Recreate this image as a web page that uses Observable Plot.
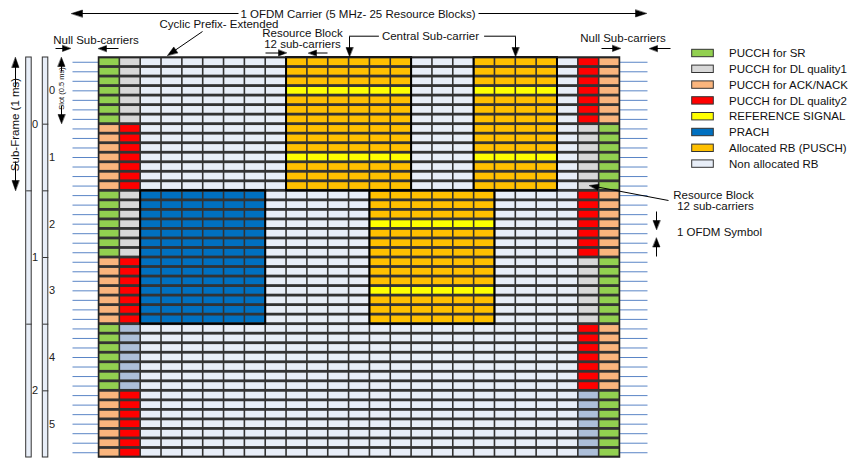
<!DOCTYPE html>
<html><head><meta charset="utf-8">
<script src="https://cdn.jsdelivr.net/npm/d3@7"></script>
<script src="https://cdn.jsdelivr.net/npm/@observablehq/plot@0.6"></script>
<style>body{margin:0;background:#fff} svg{display:block}</style>
</head><body><div id="chart"></div>
<script>
// ---------- data ----------
const nRB = 25;
const symbolsPerSlot = 7;
const slotLabels = ["0","1","2","3","4","5"];
const subFrameLabels = ["0","1","2"];
// PUCCH edge columns, one entry per slot
const col0Types  = ["SR","ACK","SR","ACK","SR","ACK"];
const col1Types  = ["DL1","DL2","DL1","DL2","IDLE","DL2"];
const col23Types = ["DL2","DL1","DL2","DL1","DL2","IDLE"];
const col24Types = ["ACK","SR","ACK","SR","ACK","SR"];
// allocations
const puschFirstRB   = [9, 18, 13];
const puschLastRB    = [14, 21, 18];
const puschFirstSlot = [0, 0, 2];
const puschLastSlot  = [1, 1, 3];
const prachFirstRB = [2], prachLastRB = [7], prachFirstSlot = [2], prachLastSlot = [3];
const refSymbol = 3;
// legend
const legendLabels = ["PUCCH for SR","PUCCH for DL quality1","PUCCH for ACK/NACK","PUCCH for DL quality2","REFERENCE SIGNAL","PRACH","Allocated RB (PUSCH)","Non allocated RB"];
const legendKeys   = ["SR","DL1","ACK","DL2","RS","PRACH","PUSCH","FREE"];
const typeColor = {SR:"#92D050", DL1:"#D8D8D8", ACK:"#FAB57D", DL2:"#FF0000", RS:"#FFFF00", PRACH:"#0070C0", PUSCH:"#FFC000", FREE:"#E8EEF8", IDLE:"#ADBFD9"};

// ---------- build cells ----------
const nSlots = slotLabels.length;
const nRows = nSlots * symbolsPerSlot;
const cells = [];
for (let s = 0; s < nSlots; s++) {
  for (let k = 0; k < symbolsPerSlot; k++) {
    const row = s * symbolsPerSlot + k;
    for (let c = 0; c < nRB; c++) {
      let t = "FREE";
      if (c === 0) t = col0Types[s];
      else if (c === 1) t = col1Types[s];
      else if (c === nRB - 2) t = col23Types[s];
      else if (c === nRB - 1) t = col24Types[s];
      else {
        puschFirstRB.forEach((f, i) => {
          if (c >= f && c <= puschLastRB[i] && s >= puschFirstSlot[i] && s <= puschLastSlot[i]) t = (k === refSymbol ? "RS" : "PUSCH");
        });
        prachFirstRB.forEach((f, i) => {
          if (c >= f && c <= prachLastRB[i] && s >= prachFirstSlot[i] && s <= prachLastSlot[i]) t = "PRACH";
        });
      }
      cells.push({c, row, color: typeColor[t]});
    }
  }
}
const blocks = [];
puschFirstRB.forEach((f, i) => blocks.push({x1: f, x2: puschLastRB[i] + 1, y1: puschFirstSlot[i] * symbolsPerSlot, y2: (puschLastSlot[i] + 1) * symbolsPerSlot}));
prachFirstRB.forEach((f, i) => blocks.push({x1: f, x2: prachLastRB[i] + 1, y1: prachFirstSlot[i] * symbolsPerSlot, y2: (prachLastSlot[i] + 1) * symbolsPerSlot}));

// ---------- layout helpers (annotation placement) ----------
const gx0 = 98.5, gx1 = 619.5, gy0 = 57, gy1 = 457;
const X = px => (px - gx0) / ((gx1 - gx0) / nRB);
const Y = py => (py - gy0) / ((gy1 - gy0) / nRows);

const segs = [], heads = [];
let aid = 0;
function arrow(x1, y1, x2, y2, len = 9, half = 3.5) {
  const dx = x2 - x1, dy = y2 - y1, L = Math.hypot(dx, dy), ux = dx / L, uy = dy / L;
  const bx = x2 - ux * len, by = y2 - uy * len, px = -uy, py = ux;
  segs.push({x1: X(x1), y1: Y(y1), x2: X(bx + ux), y2: Y(by + uy)});
  const id = aid++;
  [[x2, y2], [bx + px * half, by + py * half], [bx - px * half, by - py * half]].forEach(([a, b]) => heads.push({x: X(a), y: Y(b), id}));
}
// carrier arrows
arrow(238, 13, 71, 13, 11, 3.5);
arrow(478, 13, 646, 13, 11, 3.5);
// cyclic prefix
arrow(202, 31, 167, 55, 10, 3.5);
// null sub-carriers
arrow(55, 48, 70, 48, 8, 3);
arrow(118, 48, 98, 48, 8, 3);
arrow(601, 48, 620, 48, 8, 3);
arrow(670, 48, 649, 48, 8, 3);
// resource block (top)
arrow(265, 52.5, 286, 52.5, 8, 3);
arrow(327, 52.5, 308, 52.5, 8, 3);
// central sub-carrier
arrow(349, 36, 349, 56, 9, 3.5);
arrow(515, 36, 515, 56, 9, 3.5);
// resource block (right)
arrow(668, 200, 589, 185, 9, 3);
// 1 OFDM symbol
arrow(656, 211, 656, 229, 9, 3.5);
arrow(656, 256, 656, 237.5, 9, 3.5);
// sub-frame
arrow(15, 87, 15, 57, 10, 3.5);
arrow(15, 161, 15, 190, 10, 3.5);
// slot
arrow(61, 71, 61, 57, 9, 3.5);
arrow(61, 105, 61, 123, 9, 3.5);

const bracket = [
  {x: X(378), y: Y(35.7), z: 0}, {x: X(349), y: Y(35.7), z: 0},
  {x: X(484), y: Y(35.7), z: 1}, {x: X(515), y: Y(35.7), z: 1}
];

const textsMid = [
  {x: X(357.5), y: Y(13.5), t: "1 OFDM Carrier (5 MHz- 25 Resource Blocks)"},
  {x: X(218.5), y: Y(24), t: "Cyclic Prefix- Extended"},
  {x: X(95.5), y: Y(40), t: "Null Sub-carriers"},
  {x: X(622.5), y: Y(37.5), t: "Null Sub-carriers"},
  {x: X(302), y: Y(33.3), t: "Resource Block"},
  {x: X(302), y: Y(44), t: "12 sub-carriers"},
  {x: X(430), y: Y(35.7), t: "Central Sub-carrier"},
  {x: X(713), y: Y(195), t: "Resource Block"},
  {x: X(715), y: Y(206), t: "12 sub-carriers"}
];
const textsStart = [
  {x: X(676.5), y: Y(232.3), t: "1 OFDM Symbol"}
];
const rotTexts = [
  {x: X(15), y: Y(124), t: "Sub-Frame (1 ms)", fs: 11.5},
  {x: X(61), y: Y(88), t: "Slot (0.5 ms)", fs: 7.5}
];

// left bars
const barSub = {x1: X(25.7), x2: X(31.2)};
const barSlot = {x1: X(42.3), x2: X(47.8)};
const bars = [{...barSub, y1: 0, y2: nRows}, {...barSlot, y1: 0, y2: nRows}];
const barDividers = [];
subFrameLabels.forEach((d, i) => { if (i > 0) barDividers.push({x1: barSub.x1, x2: barSub.x2, y: i * 2 * symbolsPerSlot}); });
slotLabels.forEach((d, i) => { if (i > 0) barDividers.push({x1: barSlot.x1, x2: barSlot.x2, y: i * symbolsPerSlot}); });

const rowLines = d3.range(nRows).map(r => r + 0.5);

const legendY0 = 53, legendDY = 15.8;
const legend = legendLabels.map((l, i) => ({
  label: l, color: typeColor[legendKeys[i]],
  x1: X(691.7), x2: X(713.3), y1: Y(legendY0 + i * legendDY - 3.7), y2: Y(legendY0 + i * legendDY + 3.7),
  tx: X(728.5), ty: Y(legendY0 + i * legendDY)
}));

const FS = 11.5;
const chart = Plot.plot({
  width: 850, height: 461, margin: 0,
  style: {fontFamily: "'Liberation Sans', Arial, sans-serif", fontSize: "11px", background: "#fff", overflow: "visible"},
  x: {domain: [0, nRB], range: [gx0, gx1], axis: null},
  y: {domain: [0, nRows], range: [gy0, gy1], axis: null},
  color: {type: "identity"},
  marks: [
    // side row lines
    Plot.link(rowLines, {x1: X(72), x2: 0, y1: d => d, y2: d => d, stroke: "#5A85C6", strokeWidth: 1}),
    Plot.link(rowLines, {x1: nRB, x2: X(647), y1: d => d, y2: d => d, stroke: "#5A85C6", strokeWidth: 1}),
    // grid background
    Plot.rect([0], {x1: 0, x2: nRB, y1: 0, y2: nRows, fill: "#333333"}),
    // cells
    Plot.rect(cells, {x1: "c", x2: d => d.c + 1, y1: "row", y2: d => d.row + 1, fill: "color", insetLeft: 0.8, insetRight: 0.8, insetTop: 1.4, insetBottom: 1.4}),
    // block outlines
    Plot.rect(blocks, {x1: "x1", x2: "x2", y1: "y1", y2: "y2", fill: "none", stroke: "#000", strokeWidth: 2}),
    Plot.rect([0], {x1: 0, x2: nRB, y1: 0, y2: nRows, fill: "none", stroke: "#222", strokeWidth: 1.5}),
    // left bars
    Plot.rect(bars, {x1: "x1", x2: "x2", y1: "y1", y2: "y2", fill: "#E8EEF8", stroke: "#333", strokeWidth: 1}),
    Plot.link(barDividers, {x1: "x1", x2: "x2", y1: "y", y2: "y", stroke: "#333", strokeWidth: 1}),
    Plot.text(subFrameLabels, {x: X(34.5), y: (d, i) => (i + 0.5) * 2 * symbolsPerSlot, text: d => d, fontSize: 11, fill: "#222"}),
    Plot.text(slotLabels, {x: X(51.5), y: (d, i) => (i + 0.5) * symbolsPerSlot, text: d => d, fontSize: 11, fill: "#222"}),
    // arrows
    Plot.link(segs, {x1: "x1", y1: "y1", x2: "x2", y2: "y2", stroke: "#000", strokeWidth: 1}),
    Plot.line(heads, {x: "x", y: "y", z: "id", fill: "#000", stroke: "#000", strokeWidth: 0.5, curve: "linear-closed"}),
    Plot.line(bracket, {x: "x", y: "y", z: "z", stroke: "#000", strokeWidth: 1}),
    // texts
    Plot.text(textsMid, {x: "x", y: "y", text: "t", textAnchor: "middle", fontSize: FS, fill: "#111"}),
    Plot.text(textsStart, {x: "x", y: "y", text: "t", textAnchor: "start", fontSize: FS, fill: "#111"}),
    Plot.text(rotTexts, {x: "x", y: "y", text: "t", rotate: -90, fontSize: "fs", fill: "#111"}),
    // legend
    Plot.rect(legend, {x1: "x1", x2: "x2", y1: "y1", y2: "y2", fill: "color", stroke: "#333", strokeWidth: 1}),
    Plot.text(legend, {x: "tx", y: "ty", text: "label", textAnchor: "start", fontSize: FS, fill: "#111"})
  ]
});
document.getElementById("chart").appendChild(chart);
</script></body></html>
